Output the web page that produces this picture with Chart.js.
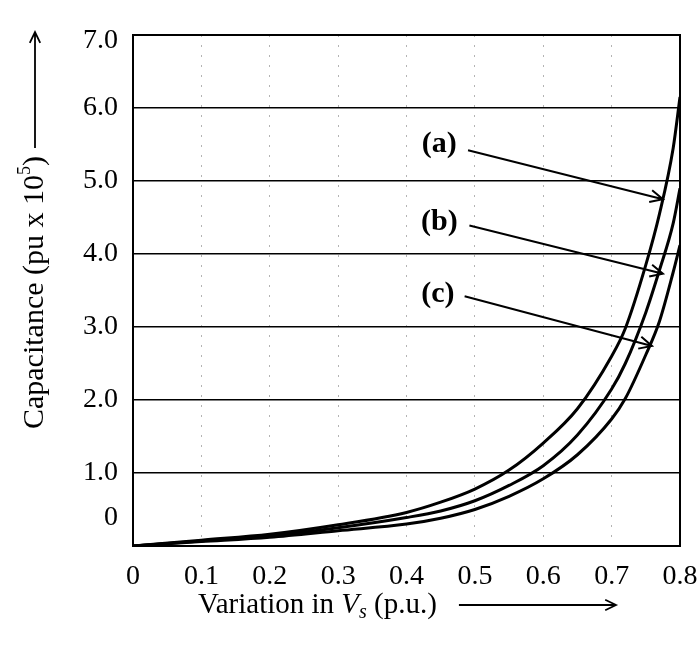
<!DOCTYPE html>
<html>
<head>
<meta charset="utf-8">
<script src="https://cdn.jsdelivr.net/npm/chart.js@4.4.0/dist/chart.umd.min.js"></script>
<style>
  html, body { margin: 0; padding: 0; background: #fff; }
  #wrap { width: 700px; height: 646px; }
</style>
</head>
<body>
<div id="wrap"><canvas id="chart"></canvas></div>
<script>
// --- Data ---
const vsValues = [0, 0.1, 0.2, 0.3, 0.4, 0.45, 0.5, 0.55, 0.6, 0.65, 0.7, 0.72, 0.75, 0.77, 0.79, 0.8];
const curveA   = [0, 0.08, 0.16, 0.29, 0.46, 0.60, 0.78, 1.04, 1.41, 1.88, 2.60, 2.98, 3.85, 4.55, 5.45, 6.15];
const curveB   = [0, 0.07, 0.14, 0.25, 0.39, 0.48, 0.62, 0.83, 1.10, 1.52, 2.15, 2.50, 3.20, 3.78, 4.42, 4.90];
const curveC   = [0, 0.06, 0.12, 0.21, 0.30, 0.38, 0.50, 0.68, 0.92, 1.25, 1.74, 2.02, 2.62, 3.08, 3.75, 4.12];

const xTickLabels = ['0', '0.1', '0.2', '0.3', '0.4', '0.5', '0.6', '0.7', '0.8'];
const yTickValues = [0, 1, 2, 3, 4, 5, 6, 7];
const yTickLabels = ['0', '1.0', '2.0', '3.0', '4.0', '5.0', '6.0', '7.0'];

// curve labels and their arrows, in data units
const curveNames = ['(a)', '(b)', '(c)'];
const nameX      = [0.448, 0.448, 0.446];
const nameY      = [5.50, 4.44, 3.45];
const arrowFrom  = [[0.490, 5.42], [0.492, 4.39], [0.485, 3.42]];
const arrowTo    = [[0.775, 4.75], [0.775, 3.73], [0.759, 2.74]];

const SERIF = '"Liberation Serif", "Times New Roman", serif';

function toPoints(ys) {
    return vsValues.map((v, i) => ({ x: v, y: ys[i] }));
}

function lineSet(ys) {
    return {
        data: toPoints(ys),
        borderColor: '#000',
        borderWidth: 3,
        pointRadius: 0,
        fill: false,
        cubicInterpolationMode: 'monotone'
    };
}

// draw a line with an open arrow head at its end
function arrow(ctx, x1, y1, x2, y2, head) {
    const ang = Math.atan2(y2 - y1, x2 - x1);
    ctx.beginPath();
    ctx.moveTo(x1, y1);
    ctx.lineTo(x2, y2);
    ctx.moveTo(x2 - head * Math.cos(ang - 0.45), y2 - head * Math.sin(ang - 0.45));
    ctx.lineTo(x2, y2);
    ctx.lineTo(x2 - head * Math.cos(ang + 0.45), y2 - head * Math.sin(ang + 0.45));
    ctx.stroke();
}

const decorPlugin = {
    id: 'decor',
    afterDraw(chart) {
        const { ctx, chartArea: a, scales: { x, y } } = chart;
        ctx.save();
        ctx.strokeStyle = '#000';
        ctx.fillStyle = '#000';

        // frame
        ctx.lineWidth = 2;
        ctx.strokeRect(a.left, a.top, a.right - a.left, a.bottom - a.top);

        // y tick labels (the zero label sits above the bottom edge in the original)
        ctx.font = '28px ' + SERIF;
        ctx.textAlign = 'right';
        ctx.textBaseline = 'middle';
        yTickValues.forEach((v, i) => {
            let py = y.getPixelForValue(v);
            if (v === 0) py -= 28;
            if (v === 7) py += 6;
            ctx.fillText(yTickLabels[i], a.left - 15, py);
        });

        // y axis title, rotated, with superscript
        const midY = (a.top + a.bottom) / 2;
        ctx.save();
        ctx.translate(a.left - 100, midY);
        ctx.rotate(-Math.PI / 2);
        ctx.textAlign = 'left';
        ctx.textBaseline = 'alphabetic';
        const t1 = 'Capacitance (pu x 10', t2 = '5', t3 = ')';
        ctx.font = '30px ' + SERIF;
        const w1 = ctx.measureText(t1).width, w3 = ctx.measureText(t3).width;
        ctx.font = '18px ' + SERIF;
        const w2 = ctx.measureText(t2).width;
        const total = w1 + w2 + w3;
        let tx = -total / 2 - 2;
        ctx.font = '30px ' + SERIF;
        ctx.fillText(t1, tx, 10);
        tx += w1;
        ctx.font = '18px ' + SERIF;
        ctx.fillText(t2, tx, -3);
        tx += w2;
        ctx.font = '30px ' + SERIF;
        ctx.fillText(t3, tx, 10);
        ctx.lineWidth = 1.8;
        arrow(ctx, total / 2 + 6, 2, midY - a.top + 3, 2, 12);
        ctx.restore();

        // x axis title: Variation in V_s (p.u.)
        const parts = [
            { t: 'Variation in ', f: '29px ' + SERIF, dy: 0 },
            { t: 'V', f: 'italic 29px ' + SERIF, dy: 0 },
            { t: 's', f: 'italic 20px ' + SERIF, dy: 5 },
            { t: ' (p.u.)', f: '29px ' + SERIF, dy: 0 }
        ];
        let px = a.left + 65;
        const base = a.bottom + 67;
        ctx.textAlign = 'left';
        ctx.textBaseline = 'alphabetic';
        parts.forEach(p => {
            ctx.font = p.f;
            ctx.fillText(p.t, px, base + p.dy);
            px += ctx.measureText(p.t).width;
        });
        ctx.lineWidth = 1.8;
        arrow(ctx, px + 22, base - 8, a.left + 483, base - 8, 12);

        // curve labels with arrows
        ctx.font = 'bold 30px ' + SERIF;
        ctx.textAlign = 'center';
        ctx.textBaseline = 'middle';
        curveNames.forEach((n, i) => {
            ctx.fillText(n, x.getPixelForValue(nameX[i]), y.getPixelForValue(nameY[i]));
            ctx.lineWidth = 2;
            arrow(ctx,
                x.getPixelForValue(arrowFrom[i][0]), y.getPixelForValue(arrowFrom[i][1]),
                x.getPixelForValue(arrowTo[i][0]), y.getPixelForValue(arrowTo[i][1]), 14);
        });

        ctx.restore();
    }
};

const ctx = document.getElementById('chart').getContext('2d');
new Chart(ctx, {
    type: 'line',
    data: {
        datasets: [lineSet(curveA), lineSet(curveB), lineSet(curveC)]
    },
    options: {
        responsive: true,
        maintainAspectRatio: false,
        animation: false,
        events: [],
        layout: { padding: { left: 0, right: 20, top: 35, bottom: 0 } },
        plugins: {
            legend: { display: false },
            tooltip: { enabled: false }
        },
        scales: {
            x: {
                type: 'linear',
                min: 0,
                max: 0.8,
                afterFit: s => { s.height = 100; s.paddingLeft = 0; s.paddingRight = 0; },
                afterBuildTicks: s => { s.ticks = xTickLabels.map(t => ({ value: parseFloat(t) })); },
                ticks: {
                    color: '#000',
                    padding: 14,
                    maxRotation: 0,
                    autoSkip: false,
                    font: { family: SERIF, size: 28 },
                    callback: (v, i) => xTickLabels[i]
                },
                grid: {
                    drawTicks: false,
                    color: c => (c.tick && (c.tick.value === 0 || c.tick.value === 0.8)) ? 'rgba(0,0,0,0)' : '#b4b4b4',
                    lineWidth: 1
                },
                border: { display: false, dash: [2, 8] }
            },
            y: {
                min: 0,
                max: 7,
                afterFit: s => { s.width = 133; s.paddingTop = 0; s.paddingBottom = 0; },
                ticks: { display: false, stepSize: 1 },
                grid: {
                    drawTicks: false,
                    color: c => (c.tick && (c.tick.value === 0 || c.tick.value === 7)) ? 'rgba(0,0,0,0)' : '#000',
                    lineWidth: 1.6
                },
                border: { display: false }
            }
        }
    },
    plugins: [decorPlugin]
});
</script>
</body>
</html>
